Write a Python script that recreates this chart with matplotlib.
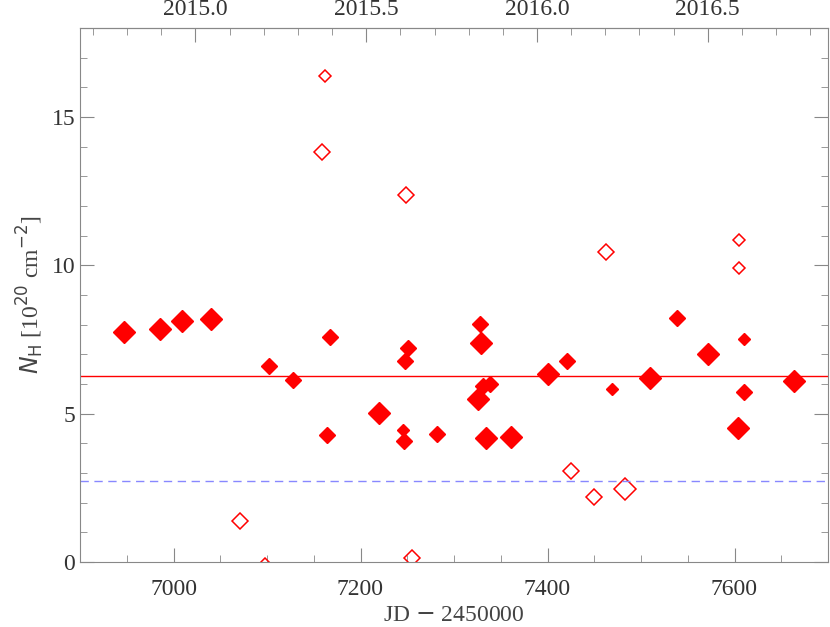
import matplotlib
matplotlib.use("Agg")
import matplotlib.pyplot as plt
from matplotlib.ticker import MultipleLocator, FixedLocator

plt.rcParams['font.family'] = ['Liberation Serif', 'DejaVu Serif']

fx = [6947, 6986, 7009, 7040, 7102, 7128, 7164, 7167, 7220, 7245, 7246, 7248, 7251, 7282,
      7326, 7328, 7329, 7331, 7334, 7338, 7361, 7400, 7421, 7469, 7510, 7539, 7572, 7610, 7610, 7604, 7664]
fy = [7.75, 7.85, 8.12, 8.19, 6.6, 6.13, 4.28, 7.6, 5.02, 4.45, 4.08, 6.78, 7.2, 4.31,
      5.49, 8.02, 7.38, 5.93, 4.18, 6.0, 4.21, 6.34, 6.77, 5.83, 6.2, 8.22, 7.01, 7.52, 5.73, 4.52, 6.1]
fs = ['L', 'L', 'L', 'L', 'M', 'M', 'M', 'M', 'L', 'S', 'M', 'M', 'M', 'M',
      'L', 'M', 'L', 'M', 'L', 'M', 'L', 'L', 'M', 'S', 'L', 'M', 'L', 'S', 'M', 'L', 'L']
ox = [7162, 7159, 7249, 7071, 7098, 7255, 7425, 7450, 7463, 7483, 7605, 7605]
oy = [16.38, 13.82, 12.37, 1.38, -0.07, 0.13, 3.07, 2.19, 10.45, 2.46, 10.85, 9.91]
os_ = ['S', 'M', 'M', 'M', 'S', 'M', 'M', 'M', 'M', 'L', 'S', 'S']
mean_nh = 6.27
gal_nh = 2.73
top_years = [2015.0, 2015.5, 2016.0, 2016.5]
sizes = {'L': 11, 'M': 8.5, 'S': 6}

fig = plt.figure(figsize=(8.3, 6.27), dpi=100)
ax = fig.add_axes([80/830, 1-562/627, 748/830, 534/627])
for x, y, s in zip(fx, fy, fs):
    ax.plot(x, y, 'D', color='red', ms=sizes[s], mec='red')
for x, y, s in zip(ox, oy, os_):
    ax.plot(x, y, 'D', mfc='none', mec='red', ms=sizes[s], mew=1.1)
ax.axhline(mean_nh, color='red', lw=1)
ax.axhline(gal_nh, color='#8888ff', lw=1, ls=(0, (6, 4)))
ax.set_xlim(6900, 7700)
ax.set_ylim(0, 18)
ax.xaxis.set_major_locator(MultipleLocator(200))
ax.xaxis.set_minor_locator(MultipleLocator(50))
ax.yaxis.set_major_locator(MultipleLocator(5))
ax.yaxis.set_minor_locator(MultipleLocator(1))
ax.tick_params(which='both', direction='in', labelsize=17, colors='#888888', labelcolor='#333333')
ax.tick_params(which='major', length=10, right=True)
ax.tick_params(which='minor', length=5, right=True)
ax.tick_params(axis='x', pad=12)
for sp in ax.spines.values():
    sp.set_color('#888888')
ax.set_xlabel('JD $-$ 2450000', fontsize=17, color='#444444')
ax.set_ylabel(r'$N_{\rm H}$ [10$^{20}$ cm$^{-2}$]', fontsize=17, color='#444444')

top = ax.secondary_xaxis('top', functions=(lambda jd: 2015 + (jd - 7023.5) / 365.25,
                                          lambda yr: 7023.5 + (yr - 2015) * 365.25))
top.xaxis.set_major_locator(FixedLocator(top_years))
top.xaxis.set_minor_locator(MultipleLocator(0.1))
top.xaxis.set_major_formatter(matplotlib.ticker.FormatStrFormatter('%.1f'))
top.tick_params(which='both', direction='in', labelsize=17, colors='#888888', labelcolor='#333333', pad=6)
top.tick_params(which='major', length=10)
top.tick_params(which='minor', length=5)
top.spines['top'].set_color('#888888')

fig.savefig('out.png', dpi=100)
